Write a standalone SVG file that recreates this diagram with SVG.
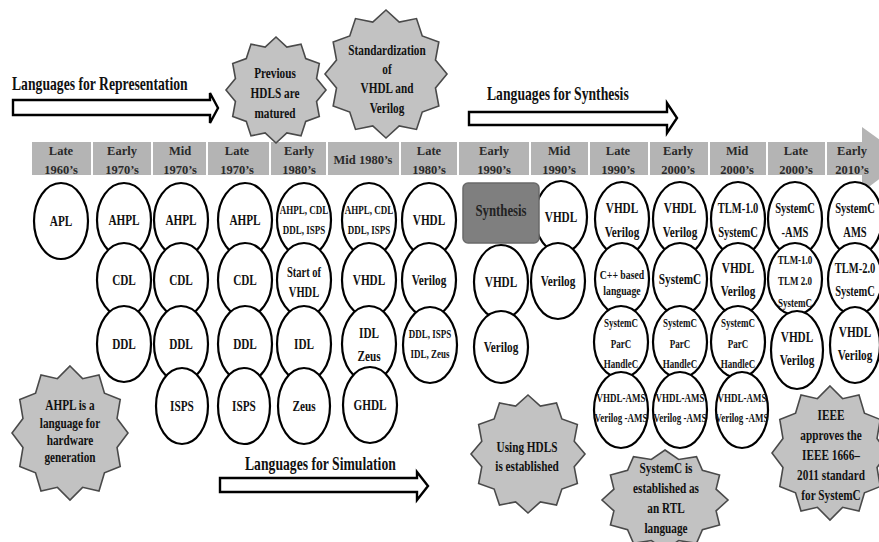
<svg xmlns="http://www.w3.org/2000/svg" xmlns:xlink="http://www.w3.org/1999/xlink" width="879" height="542" viewBox="0 0 879 542">
<style>
text{font-family:"Liberation Serif","Times New Roman",serif;font-weight:bold;text-anchor:middle;fill:#111}
.e{font-size:15px}
.s{font-size:12px}
.m{font-size:13px}
.k{font-size:14px}
.h{font-size:12.5px;fill:#2a2a2a}
.big{font-size:18px;text-anchor:start}
.cell{fill:#b4b4b4}
ellipse{fill:#fff;stroke:#000;stroke-width:2.2}
.star{fill:#c2c2c2;stroke:#4a4a4a;stroke-width:1.6}
.blk{fill:#fff;stroke:#000;stroke-width:2.4;stroke-linejoin:miter}
</style>
<defs>
<polygon id="star" vector-effect="non-scaling-stroke" points="0,-1 0.217,-0.811 0.5,-0.866 0.594,-0.594 0.866,-0.5 0.811,-0.217 1,0 0.811,0.217 0.866,0.5 0.594,0.594 0.5,0.866 0.217,0.811 0,1 -0.217,0.811 -0.5,0.866 -0.594,0.594 -0.866,0.5 -0.811,0.217 -1,0 -0.811,-0.217 -0.866,-0.5 -0.594,-0.594 -0.5,-0.866 -0.217,-0.811"/>
</defs>
<rect width="879" height="542" fill="#fff"/>

<!-- timeline header -->
<g id="timeline">
<polygon class="cell" points="862,127 906,159 862,192"/>
<rect class="cell" x="32" y="142" width="59" height="33"/>
<rect class="cell" x="93" y="142" width="58" height="33"/>
<rect class="cell" x="153" y="142" width="53" height="33"/>
<rect class="cell" x="208" y="142" width="61" height="33"/>
<rect class="cell" x="271" y="142" width="55" height="33"/>
<rect class="cell" x="328" y="142" width="71" height="33"/>
<rect class="cell" x="401" y="142" width="56" height="33"/>
<rect class="cell" x="459" y="142" width="70" height="33"/>
<rect class="cell" x="531" y="142" width="57" height="33"/>
<rect class="cell" x="590" y="142" width="58" height="33"/>
<rect class="cell" x="650" y="142" width="58" height="33"/>
<rect class="cell" x="710" y="142" width="56" height="33"/>
<rect class="cell" x="768" y="142" width="57" height="33"/>
<rect class="cell" x="827" y="142" width="36" height="33"/>
<text class="h" x="61"><tspan x="61" y="155">Late</tspan><tspan x="61" y="174">1960’s</tspan></text>
<text class="h" x="122"><tspan x="122" y="155">Early</tspan><tspan x="122" y="174">1970’s</tspan></text>
<text class="h" x="180"><tspan x="180" y="155">Mid</tspan><tspan x="180" y="174">1970’s</tspan></text>
<text class="h" x="237"><tspan x="237" y="155">Late</tspan><tspan x="237" y="174">1970’s</tspan></text>
<text class="h" x="299"><tspan x="299" y="155">Early</tspan><tspan x="299" y="174">1980’s</tspan></text>
<text class="h" x="363" y="164">Mid 1980’s</text>
<text class="h" x="429"><tspan x="429" y="155">Late</tspan><tspan x="429" y="174">1980’s</tspan></text>
<text class="h" x="494"><tspan x="494" y="155">Early</tspan><tspan x="494" y="174">1990’s</tspan></text>
<text class="h" x="559"><tspan x="559" y="155">Mid</tspan><tspan x="559" y="174">1990’s</tspan></text>
<text class="h" x="618"><tspan x="618" y="155">Late</tspan><tspan x="618" y="174">1990’s</tspan></text>
<text class="h" x="678"><tspan x="678" y="155">Early</tspan><tspan x="678" y="174">2000’s</tspan></text>
<text class="h" x="737"><tspan x="737" y="155">Mid</tspan><tspan x="737" y="174">2000’s</tspan></text>
<text class="h" x="796"><tspan x="796" y="155">Late</tspan><tspan x="796" y="174">2000’s</tspan></text>
<text class="h" x="852"><tspan x="852" y="155">Early</tspan><tspan x="852" y="174">2010’s</tspan></text>
</g>

<!-- block arrows -->
<g id="connectors">
<polygon class="blk" points="13,100 210,100 210,93 218,108 210,123 210,115 13,115"/>
<polygon class="blk" points="469,112 667,112 667,103 677,118 667,133 667,125 469,125"/>
<polygon class="blk" points="220,478 417,478 417,472 428,486 417,500 417,492 220,492"/>
</g>
<g id="labels">
<text class="big" transform="translate(12 0) scale(.76 1)" y="90">Languages for Representation</text>
<text class="big" transform="translate(487 0) scale(.76 1)" y="100">Languages for Synthesis</text>
<text class="big" transform="translate(245 0) scale(.76 1)" y="470">Languages for Simulation</text>
</g>

<!-- row 1 -->
<g id="n-apl"><ellipse cx="61" cy="221" rx="27" ry="38"/><text class="e" transform="translate(61 0) scale(.75 1)" y="226">APL</text></g>
<g id="n-ahpl-e70"><ellipse cx="124" cy="220" rx="27" ry="37"/><text class="e" transform="translate(124 0) scale(.75 1)" y="225">AHPL</text></g>
<g id="n-ahpl-m70"><ellipse cx="181" cy="220" rx="27" ry="37"/><text class="e" transform="translate(181 0) scale(.75 1)" y="225">AHPL</text></g>
<g id="n-ahpl-l70"><ellipse cx="245" cy="220" rx="27" ry="37"/><text class="e" transform="translate(245 0) scale(.75 1)" y="225">AHPL</text></g>
<g id="n-ahpl-e80"><ellipse cx="304" cy="220" rx="27" ry="37"/><text class="s" transform="translate(304 0) scale(.75 1)"><tspan x="0" y="214">AHPL, CDL</tspan><tspan x="0" y="234">DDL, ISPS</tspan></text></g>
<g id="n-ahpl-m80"><ellipse cx="369" cy="220" rx="27" ry="37"/><text class="s" transform="translate(369 0) scale(.75 1)"><tspan x="0" y="214">AHPL, CDL</tspan><tspan x="0" y="234">DDL, ISPS</tspan></text></g>
<g id="n-vhdl-l80"><ellipse cx="429" cy="220" rx="27" ry="37"/><text class="e" transform="translate(429 0) scale(.75 1)" y="225">VHDL</text></g>
<g id="n-vhdl-m90"><ellipse cx="561" cy="217" rx="26" ry="36"/><text class="e" transform="translate(561 0) scale(.75 1)" y="222">VHDL</text></g>
<g id="n-vv-l90"><ellipse cx="622" cy="219" rx="27" ry="37"/><text class="e" transform="translate(622 0) scale(.75 1)"><tspan x="0" y="213">VHDL</tspan><tspan x="0" y="237">Verilog</tspan></text></g>
<g id="n-vv-e00"><ellipse cx="680" cy="219" rx="27" ry="37"/><text class="e" transform="translate(680 0) scale(.75 1)"><tspan x="0" y="213">VHDL</tspan><tspan x="0" y="237">Verilog</tspan></text></g>
<g id="n-tlm-m00"><ellipse cx="738" cy="219" rx="27" ry="37"/><text class="k" transform="translate(738 0) scale(.75 1)"><tspan x="0" y="213">TLM-1.0</tspan><tspan x="0" y="237">SystemC</tspan></text></g>
<g id="n-sca-l00"><ellipse cx="795" cy="219" rx="27" ry="37"/><text class="k" transform="translate(795 0) scale(.75 1)"><tspan x="0" y="213">SystemC</tspan><tspan x="0" y="237">-AMS</tspan></text></g>
<g id="n-sca-e10"><ellipse cx="855" cy="219" rx="27" ry="37"/><text class="k" transform="translate(855 0) scale(.75 1)"><tspan x="0" y="213">SystemC</tspan><tspan x="0" y="237">AMS</tspan></text></g>

<!-- row 2 -->
<g id="n-cdl-e70"><ellipse cx="124" cy="280" rx="27" ry="37"/><text class="e" transform="translate(124 0) scale(.75 1)" y="285">CDL</text></g>
<g id="n-cdl-m70"><ellipse cx="181" cy="280" rx="27" ry="37"/><text class="e" transform="translate(181 0) scale(.75 1)" y="285">CDL</text></g>
<g id="n-cdl-l70"><ellipse cx="245" cy="280" rx="27" ry="37"/><text class="e" transform="translate(245 0) scale(.75 1)" y="285">CDL</text></g>
<g id="n-start-vhdl"><ellipse cx="304" cy="280" rx="27" ry="37"/><text class="k" transform="translate(304 0) scale(.75 1)"><tspan x="0" y="277">Start of</tspan><tspan x="0" y="297">VHDL</tspan></text></g>
<g id="n-vhdl-m80"><ellipse cx="369" cy="280" rx="27" ry="37"/><text class="e" transform="translate(369 0) scale(.75 1)" y="285">VHDL</text></g>
<g id="n-verilog-l80"><ellipse cx="429" cy="280" rx="27" ry="37"/><text class="e" transform="translate(429 0) scale(.75 1)" y="285">Verilog</text></g>
<g id="n-vhdl-e90"><ellipse cx="501" cy="282" rx="27" ry="37"/><text class="e" transform="translate(501 0) scale(.75 1)" y="287">VHDL</text></g>
<g id="n-verilog-m90"><ellipse cx="558" cy="281" rx="27" ry="38"/><text class="e" transform="translate(558 0) scale(.75 1)" y="286">Verilog</text></g>
<g id="n-cpp"><ellipse cx="622" cy="279" rx="27" ry="36"/><text class="m" transform="translate(622 0) scale(.75 1)"><tspan x="0" y="279">C++ based</tspan><tspan x="0" y="295">language</tspan></text></g>
<g id="n-systemc-e00"><ellipse cx="680" cy="279" rx="27" ry="36"/><text class="e" transform="translate(680 0) scale(.75 1)" y="284">SystemC</text></g>
<g id="n-vv-m00"><ellipse cx="738" cy="279" rx="27" ry="36"/><text class="e" transform="translate(738 0) scale(.75 1)"><tspan x="0" y="273">VHDL</tspan><tspan x="0" y="296">Verilog</tspan></text></g>
<g id="n-tlm-l00"><ellipse cx="795" cy="279" rx="27" ry="36"/><text class="s" transform="translate(795 0) scale(.75 1)"><tspan x="0" y="264">TLM-1.0</tspan><tspan x="0" y="285">TLM 2.0</tspan><tspan x="0" y="307">SystemC</tspan></text></g>
<g id="n-tlm-e10"><ellipse cx="855" cy="279" rx="27" ry="36"/><text class="k" transform="translate(855 0) scale(.75 1)"><tspan x="0" y="273">TLM-2.0</tspan><tspan x="0" y="296">SystemC</tspan></text></g>

<!-- row 3 -->
<g id="n-ddl-e70"><ellipse cx="124" cy="344" rx="27" ry="38"/><text class="e" transform="translate(124 0) scale(.75 1)" y="349">DDL</text></g>
<g id="n-ddl-m70"><ellipse cx="181" cy="344" rx="27" ry="38"/><text class="e" transform="translate(181 0) scale(.75 1)" y="349">DDL</text></g>
<g id="n-ddl-l70"><ellipse cx="245" cy="344" rx="27" ry="38"/><text class="e" transform="translate(245 0) scale(.75 1)" y="349">DDL</text></g>
<g id="n-idl-e80"><ellipse cx="304" cy="344" rx="27" ry="38"/><text class="e" transform="translate(304 0) scale(.75 1)" y="349">IDL</text></g>
<g id="n-idl-zeus"><ellipse cx="369" cy="344" rx="27" ry="38"/><text class="e" transform="translate(369 0) scale(.75 1)"><tspan x="0" y="338">IDL</tspan><tspan x="0" y="361">Zeus</tspan></text></g>
<g id="n-ddl-l80"><ellipse cx="430" cy="345" rx="27" ry="38"/><text class="s" transform="translate(430 0) scale(.75 1)"><tspan x="0" y="338">DDL, ISPS</tspan><tspan x="0" y="358">IDL, Zeus</tspan></text></g>
<g id="n-verilog-e90"><ellipse cx="501" cy="347" rx="27" ry="36"/><text class="e" transform="translate(501 0) scale(.75 1)" y="352">Verilog</text></g>
<g id="n-parc-l90"><ellipse cx="621" cy="342" rx="27" ry="36"/><text class="s" transform="translate(621 0) scale(.75 1)"><tspan x="0" y="327">SystemC</tspan><tspan x="0" y="348">ParC</tspan><tspan x="0" y="368">HandleC</tspan></text></g>
<g id="n-parc-e00"><ellipse cx="680" cy="342" rx="27" ry="36"/><text class="s" transform="translate(680 0) scale(.75 1)"><tspan x="0" y="327">SystemC</tspan><tspan x="0" y="348">ParC</tspan><tspan x="0" y="368">HandleC</tspan></text></g>
<g id="n-parc-m00"><ellipse cx="738" cy="342" rx="27" ry="36"/><text class="s" transform="translate(738 0) scale(.75 1)"><tspan x="0" y="327">SystemC</tspan><tspan x="0" y="348">ParC</tspan><tspan x="0" y="368">HandleC</tspan></text></g>
<g id="n-vv-l00"><ellipse cx="797" cy="350" rx="26" ry="39"/><text class="e" transform="translate(797 0) scale(.75 1)"><tspan x="0" y="342">VHDL</tspan><tspan x="0" y="365">Verilog</tspan></text></g>
<g id="n-vv-e10"><ellipse cx="855" cy="345" rx="25" ry="38"/><text class="e" transform="translate(855 0) scale(.75 1)"><tspan x="0" y="337">VHDL</tspan><tspan x="0" y="360">Verilog</tspan></text></g>

<!-- row 4 -->
<g id="n-isps-m70"><ellipse cx="182" cy="406" rx="26" ry="38"/><text class="e" transform="translate(182 0) scale(.75 1)" y="411">ISPS</text></g>
<g id="n-isps-l70"><ellipse cx="244" cy="406" rx="26" ry="38"/><text class="e" transform="translate(244 0) scale(.75 1)" y="411">ISPS</text></g>
<g id="n-zeus-e80"><ellipse cx="304" cy="406" rx="26" ry="38"/><text class="e" transform="translate(304 0) scale(.75 1)" y="411">Zeus</text></g>
<g id="n-ghdl"><ellipse cx="370" cy="405" rx="27" ry="38"/><text class="e" transform="translate(370 0) scale(.75 1)" y="410">GHDL</text></g>
<g id="n-ams-l90"><ellipse cx="621" cy="410" rx="27" ry="38"/><text class="s" transform="translate(621 0) scale(.75 1)"><tspan x="0" y="402">VHDL-AMS</tspan><tspan x="0" y="422">Verilog -AMS</tspan></text></g>
<g id="n-ams-e00"><ellipse cx="680" cy="410" rx="27" ry="38"/><text class="s" transform="translate(680 0) scale(.75 1)"><tspan x="0" y="402">VHDL-AMS</tspan><tspan x="0" y="422">Verilog -AMS</tspan></text></g>
<g id="n-ams-m00"><ellipse cx="742" cy="410" rx="26" ry="38"/><text class="s" transform="translate(742 0) scale(.75 1)"><tspan x="0" y="402">VHDL-AMS</tspan><tspan x="0" y="422">Verilog -AMS</tspan></text></g>

<!-- synthesis box -->
<g id="n-synthesis"><rect x="463" y="183" width="76" height="60" rx="5" fill="#7f7f7f" stroke="#6a6a6a" stroke-width="1.5"/><text transform="translate(501 0) scale(.8 1)" y="216" style="font-size:16px;fill:#222">Synthesis</text></g>

<!-- stars -->
<g id="s-previous"><use xlink:href="#star" class="star" transform="translate(276 90) scale(50 53)"/><text class="e" transform="translate(275 0) scale(.75 1)"><tspan x="0" y="78">Previous</tspan><tspan x="0" y="98">HDLS are</tspan><tspan x="0" y="118">matured</tspan></text></g>
<g id="s-standard"><use xlink:href="#star" class="star" transform="translate(386 74) scale(61 64)"/><text class="e" transform="translate(387 0) scale(.75 1)"><tspan x="0" y="55">Standardization</tspan><tspan x="0" y="74">of</tspan><tspan x="0" y="93">VHDL and</tspan><tspan x="0" y="113">Verilog</tspan></text></g>
<g id="s-ahpl"><use xlink:href="#star" class="star" transform="translate(70 433) scale(58 67)"/><text class="e" transform="translate(70 0) scale(.75 1)"><tspan x="0" y="410">AHPL is a</tspan><tspan x="0" y="428">language for</tspan><tspan x="0" y="445">hardware</tspan><tspan x="0" y="462">generation</tspan></text></g>
<g id="s-using"><use xlink:href="#star" class="star" transform="translate(528 454) scale(57 59)"/><text class="e" transform="translate(527 0) scale(.75 1)"><tspan x="0" y="452">Using HDLS</tspan><tspan x="0" y="471">is established</tspan></text></g>
<g id="s-systemc"><use xlink:href="#star" class="star" transform="translate(665 500) scale(63 50)"/><text class="e" transform="translate(666 0) scale(.75 1)"><tspan x="0" y="473">SystemC is</tspan><tspan x="0" y="493">established as</tspan><tspan x="0" y="513">an RTL</tspan><tspan x="0" y="533">language</tspan></text></g>
<g id="s-ieee"><use xlink:href="#star" class="star" transform="translate(830 453) scale(58 67)"/><text class="e" transform="translate(831 0) scale(.75 1)"><tspan x="0" y="420">IEEE</tspan><tspan x="0" y="440">approves the</tspan><tspan x="0" y="460">IEEE 1666–</tspan><tspan x="0" y="480">2011 standard</tspan><tspan x="0" y="500">for SystemC</tspan></text></g>
</svg>
